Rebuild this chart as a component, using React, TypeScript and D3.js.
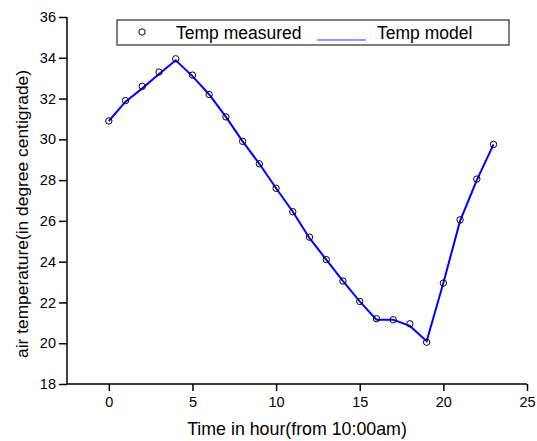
import React, { useEffect, useRef } from "react";
import * as d3 from "d3";

// hours since 10:00am
const hours = [0, 1, 2, 3, 4, 5, 6, 7, 8, 9, 10, 11, 12, 13, 14, 15, 16, 17, 18, 19, 20, 21, 22, 23];
// measured air temperature (circles)
const measured = [30.9, 31.9, 32.6, 33.3, 33.95, 33.15, 32.2, 31.1, 29.9, 28.8, 27.6, 26.45, 25.2, 24.1, 23.05, 22.05, 21.2, 21.15, 20.95, 20.05, 22.95, 26.05, 28.05, 29.75];
// model air temperature (line)
const model = [30.9, 31.85, 32.5, 33.2, 33.88, 33.1, 32.2, 31.1, 29.9, 28.8, 27.6, 26.45, 25.15, 24.1, 23.05, 22.05, 21.15, 21.15, 20.85, 20.1, 22.95, 26.0, 28.0, 29.75];
const xTicks = [0, 5, 10, 15, 20, 25];
const yTicks = [18, 20, 22, 24, 26, 28, 30, 32, 34, 36];
const legendLabels = ["Temp measured", "Temp model"];

const W = 537;
const H = 441;
const margin = { top: 17, right: 10, bottom: 57, left: 67 };
const FONT = "'Liberation Sans', Arial, sans-serif";

export default function App() {
  const ref = useRef<SVGSVGElement>(null);

  useEffect(() => {
    const svg = d3.select(ref.current);
    svg.selectAll("*").remove();

    const x = d3.scaleLinear().domain([-2.5, 25]).range([margin.left, 527]);
    const y = d3.scaleLinear().domain([18, 36]).range([H - margin.bottom, margin.top]);

    // axes
    const xAxis = svg.append("g").attr("transform", `translate(0,${y(18)})`);
    xAxis.call(d3.axisBottom(x).tickValues(d3.range(-2.5, 25.01, 2.5)).tickSize(4).tickFormat(() => ""));
    xAxis.call(d3.axisBottom(x).tickValues(xTicks).tickSize(7).tickPadding(6).tickFormat(d3.format("d")));
    xAxis.selectAll("path,line").attr("stroke", "#000").attr("stroke-width", 1.5);
    xAxis.selectAll("text").attr("font-family", FONT).attr("font-size", 14.5).attr("fill", "#000");

    const yAxis = svg.append("g").attr("transform", `translate(${x(-2.5)},0)`);
    yAxis.call(d3.axisLeft(y).tickValues(d3.range(18, 36.01, 1)).tickSize(4).tickFormat(() => ""));
    yAxis.call(d3.axisLeft(y).tickValues(yTicks).tickSize(8).tickPadding(3).tickFormat(d3.format("d")));
    yAxis.selectAll("path,line").attr("stroke", "#000").attr("stroke-width", 1.5);
    yAxis.selectAll("text").attr("font-family", FONT).attr("font-size", 14.5).attr("fill", "#000");
    svg.selectAll(".domain").attr("d", null);
    svg.append("line")
      .attr("x1", x(-2.5)).attr("x2", x(25)).attr("y1", y(18)).attr("y2", y(18))
      .attr("stroke", "#000").attr("stroke-width", 1.5);
    svg.append("line")
      .attr("x1", x(-2.5)).attr("x2", x(-2.5)).attr("y1", y(18)).attr("y2", y(36))
      .attr("stroke", "#000").attr("stroke-width", 1.5);

    // model line
    const line = d3.line<number>().x((_, i) => x(hours[i])).y(d => y(d));
    svg.append("path")
      .attr("d", line(model))
      .attr("fill", "none")
      .attr("stroke", "#0000ff")
      .attr("stroke-width", 2);

    // measured points
    svg.append("g")
      .selectAll("circle")
      .data(measured)
      .join("circle")
      .attr("cx", (_, i) => x(hours[i]))
      .attr("cy", d => y(d))
      .attr("r", 3.2)
      .attr("fill", "none")
      .attr("stroke", "#000")
      .attr("stroke-width", 1);

    // legend
    const lg = svg.append("g");
    lg.append("rect")
      .attr("x", 117).attr("y", 20).attr("width", 392).attr("height", 25)
      .attr("fill", "#fff").attr("stroke", "#000").attr("stroke-width", 1);
    lg.append("circle")
      .attr("cx", 142).attr("cy", 32).attr("r", 3.2)
      .attr("fill", "none").attr("stroke", "#000");
    lg.append("text")
      .attr("x", 176).attr("y", 38.5)
      .attr("font-family", FONT).attr("font-size", 17.5)
      .text(legendLabels[0]);
    lg.append("line")
      .attr("x1", 317).attr("x2", 366).attr("y1", 40).attr("y2", 40)
      .attr("stroke", "#3030ff").attr("stroke-width", 1.2);
    lg.append("text")
      .attr("x", 377).attr("y", 38.5)
      .attr("font-family", FONT).attr("font-size", 17.5)
      .text(legendLabels[1]);

    // axis titles
    svg.append("text")
      .attr("x", 297).attr("y", 435)
      .attr("text-anchor", "middle")
      .attr("font-family", FONT).attr("font-size", 17.8)
      .text("Time in hour(from 10:00am)");
    svg.append("text")
      .attr("transform", `translate(28,214) rotate(-90)`)
      .attr("text-anchor", "middle")
      .attr("font-family", FONT).attr("font-size", 17.4)
      .text("air temperature(in degree centigrade)");
  }, []);

  return (
    <svg ref={ref} width={W} height={H} style={{ position: "absolute", left: 0, top: 0, background: "#fff" }} />
  );
}
